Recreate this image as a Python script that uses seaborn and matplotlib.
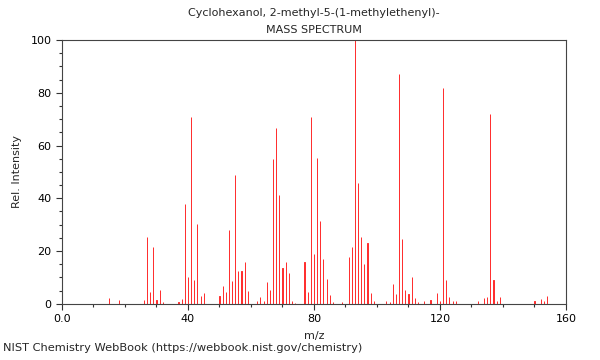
import matplotlib
matplotlib.use("Agg")
import matplotlib.pyplot as plt
from matplotlib.ticker import MultipleLocator
import seaborn as sns
import pandas as pd

# peak list (m/z, relative intensity)
mz = [15, 18, 26, 27, 28, 29, 30, 31, 32, 37, 38, 39, 40, 41, 42, 43, 44, 45,
      50, 51, 52, 53, 54, 55, 56, 57, 58, 59, 62, 63, 64, 65, 66, 67, 68, 69,
      70, 71, 72, 73, 74, 77, 78, 79, 80, 81, 82, 83, 84, 85, 86, 89, 91, 92,
      93, 94, 95, 96, 97, 98, 99, 103, 104, 105, 106, 107, 108, 109, 110, 111,
      112, 113, 115, 117, 119, 120, 121, 122, 123, 124, 125, 132, 134, 135,
      136, 137, 138, 139, 150, 152, 153, 154]
intensity = [2.4, 1.3, 1.5, 25.5, 4.5, 21.6, 1.5, 5.3, 0.8, 0.8, 2.0, 37.9, 10.1,
             70.8, 9.1, 30.3, 2.8, 4.0, 2.8, 6.9, 4.5, 28.0, 8.8, 48.9, 12.5,
             12.5, 15.9, 4.8, 1.0, 2.7, 1.0, 8.2, 5.3, 54.7, 66.5, 41.3, 13.6,
             15.7, 11.6, 1.0, 0.5, 16.0, 4.3, 70.8, 18.9, 55.2, 31.4, 16.9, 9.3,
             3.3, 0.8, 0.6, 17.7, 21.7, 100.0, 45.7, 25.2, 15.1, 22.9, 4.2, 1.2,
             1.2, 0.6, 7.6, 3.7, 87.0, 24.6, 5.3, 3.8, 10.1, 2.3, 0.8, 1.2, 1.5,
             4.2, 1.2, 81.7, 9.0, 2.7, 1.0, 1.0, 1.2, 2.3, 2.7, 72.0, 9.0, 1.0,
             2.7, 1.0, 2.0, 1.0, 3.0]

title = "Cyclohexanol, 2-methyl-5-(1-methylethenyl)-\nMASS SPECTRUM"
footer = "NIST Chemistry WebBook (https://webbook.nist.gov/chemistry)"

df = pd.DataFrame({"mz": mz, "intensity": intensity})

sns.set_theme(style="ticks")
plt.rcParams["font.family"] = ["DejaVu Sans"]
plt.rcParams["font.size"] = 8

fig = plt.figure(figsize=(6, 3.6), dpi=100)
ax = fig.add_axes([0.1033, 0.156, 0.84, 0.733])

# very thin bars, the edge line gives a 1px stick
sns.barplot(data=df, x="mz", y="intensity", native_scale=True, width=0.02,
            color="#ff3030", edgecolor="#ff3030", linewidth=0.72, saturation=1,
            ax=ax)
for p in ax.patches:
    p.set_snap(True)

ax.set_xlim(0, 160)
ax.set_ylim(0, 100)
ax.xaxis.set_major_locator(MultipleLocator(40))
ax.xaxis.set_minor_locator(MultipleLocator(10))
ax.yaxis.set_major_locator(MultipleLocator(20))
ax.yaxis.set_minor_locator(MultipleLocator(5))
ax.set_xticks([0, 40, 80, 120, 160], ["0.0", "40", "80", "120", "160"])
ax.tick_params(labelsize=8, length=4, width=0.8, colors="#333333",
               labelcolor="black")
ax.tick_params(which="minor", length=2, width=0.8, colors="#333333")
for s in ax.spines.values():
    s.set_visible(True)
    s.set_linewidth(0.8)
    s.set_color("#444444")

ax.set_xlabel("m/z", fontsize=8, labelpad=5)
ax.set_ylabel("Rel. Intensity", fontsize=8, labelpad=6)
ax.set_title(title, fontsize=8, linespacing=1.9, pad=5)
fig.text(0.005, 0.02, footer, fontsize=8.2, ha="left", va="bottom")

fig.savefig("out.png", dpi=100)
